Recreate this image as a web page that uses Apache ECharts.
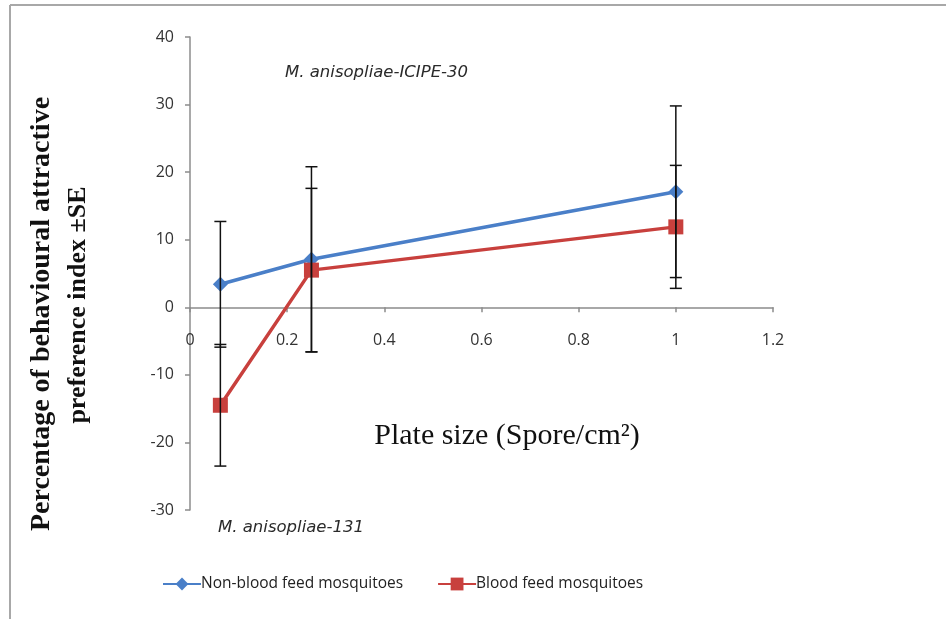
<!DOCTYPE html>
<html>
<head>
<meta charset="utf-8">
<script src="https://cdn.jsdelivr.net/npm/echarts@6/dist/echarts.min.js"></script>
<style>html,body{margin:0;padding:0;background:#fff}#c{width:946px;height:619px}</style>
</head>
<body>
<div id="c"></div>
<script>
var xValues = [0.0625, 0.25, 1];
var nonBlood = [3.4, 7.1, 17.1];
var nonBloodSE = [9.3, 13.7, 12.7];
var blood = [-14.5, 5.5, 11.9];
var bloodSE = [9.0, 12.1, 9.1];
var seriesNames = ['Non-blood feed mosquitoes', 'Blood feed mosquitoes'];
var xTitle = 'Plate size (Spore/cm²)';
var yTitle = ['Percentage of behavioural attractive', 'preference index ±SE'];
var noteTop = 'M. anisopliae-ICIPE-30';
var noteBottom = 'M. anisopliae-131';

var blue = '#4a7fc8', red = '#c8403d';

function pairs(v) { return xValues.map(function (x, i) { return [x, v[i]]; }); }
function errData(v, se) { return xValues.map(function (x, i) { return [x, v[i] - se[i], v[i] + se[i]]; }); }

function errRender(params, api) {
  var x = api.value(0);
  var lo = api.coord([x, api.value(1)]);
  var hi = api.coord([x, api.value(2)]);
  var w = 6;
  var st = { stroke: '#111', lineWidth: 1.5 };
  return {
    type: 'group',
    children: [
      { type: 'line', shape: { x1: lo[0], y1: lo[1], x2: hi[0], y2: hi[1] }, style: st },
      { type: 'line', shape: { x1: lo[0] - w, y1: lo[1], x2: lo[0] + w, y2: lo[1] }, style: st },
      { type: 'line', shape: { x1: hi[0] - w, y1: hi[1], x2: hi[0] + w, y2: hi[1] }, style: st }
    ]
  };
}

var gridTop = 37, gridBottomPx = 510, yMin = -30, yMax = 40;
var zeroOffset = -(gridBottomPx - gridTop) * (0 - yMin) / (yMax - yMin);

var chart = echarts.init(document.getElementById('c'));
chart.setOption({
  animation: false,
  backgroundColor: '#fff',
  grid: { left: 190, right: 173, top: gridTop, bottom: 619 - gridBottomPx },
  legend: {
    left: 162, top: 576, padding: 0,
    itemWidth: 38, itemHeight: 16, itemGap: 34,
    textStyle: { fontFamily: 'Open Sans', fontSize: 15.5, color: '#222', padding: [0, 0, 0, -5] },
    data: seriesNames
  },
  xAxis: {
    type: 'value', min: 0, max: 1.2, interval: 0.2,
    offset: zeroOffset,
    axisLine: { onZero: false, lineStyle: { color: '#8c8c8c', width: 1.5 } },
    axisTick: { show: true, length: 5, lineStyle: { color: '#8c8c8c', width: 1.5 } },
    axisLabel: { margin: 25, fontFamily: 'Open Sans', fontSize: 16, color: '#333' },
    splitLine: { show: false }
  },
  yAxis: {
    type: 'value', min: yMin, max: yMax, interval: 10,
    axisLine: { show: true, onZero: false, lineStyle: { color: '#8c8c8c', width: 1.5 } },
    axisTick: { show: true, length: 5, lineStyle: { color: '#8c8c8c', width: 1.5 } },
    axisLabel: { margin: 16, fontFamily: 'Open Sans', fontSize: 16, color: '#333' },
    splitLine: { show: false }
  },
  graphic: [
    { type: 'line', shape: { x1: 10, y1: 5, x2: 946, y2: 5 }, style: { stroke: '#a8a8a8', lineWidth: 2 } },
    { type: 'line', shape: { x1: 10, y1: 5, x2: 10, y2: 619 }, style: { stroke: '#a8a8a8', lineWidth: 2 } },
    { type: 'text', x: 42, y: 314, rotation: Math.PI / 2,
      style: { text: yTitle[0], font: 'bold 28px "Liberation Serif"', fill: '#111', align: 'center', verticalAlign: 'middle' } },
    { type: 'text', x: 78, y: 305, rotation: Math.PI / 2,
      style: { text: yTitle[1], font: 'bold 26px "Liberation Serif"', fill: '#111', align: 'center', verticalAlign: 'middle' } },
    { type: 'text', x: 507, y: 436,
      style: { text: xTitle, font: '30px "Liberation Serif"', fill: '#111', align: 'center', verticalAlign: 'middle' } },
    { type: 'text', x: 285, y: 73,
      style: { text: noteTop, font: 'italic 16.5px "DejaVu Sans"', fill: '#2a2a2a', align: 'left', verticalAlign: 'middle' } },
    { type: 'text', x: 218, y: 528,
      style: { text: noteBottom, font: 'italic 16.5px "DejaVu Sans"', fill: '#2a2a2a', align: 'left', verticalAlign: 'middle' } }
  ],
  series: [
    { name: seriesNames[0], type: 'line', data: pairs(nonBlood), symbol: 'diamond', symbolSize: 15,
      lineStyle: { color: blue, width: 3.5 }, itemStyle: { color: blue }, z: 3 },
    { name: seriesNames[1], type: 'line', data: pairs(blood), symbol: 'rect', symbolSize: 15,
      lineStyle: { color: red, width: 3.5 }, itemStyle: { color: red }, z: 3 },
    { type: 'custom', data: errData(nonBlood, nonBloodSE), renderItem: errRender, z: 5, silent: true },
    { type: 'custom', data: errData(blood, bloodSE), renderItem: errRender, z: 5, silent: true }
  ]
});
</script>
</body>
</html>
